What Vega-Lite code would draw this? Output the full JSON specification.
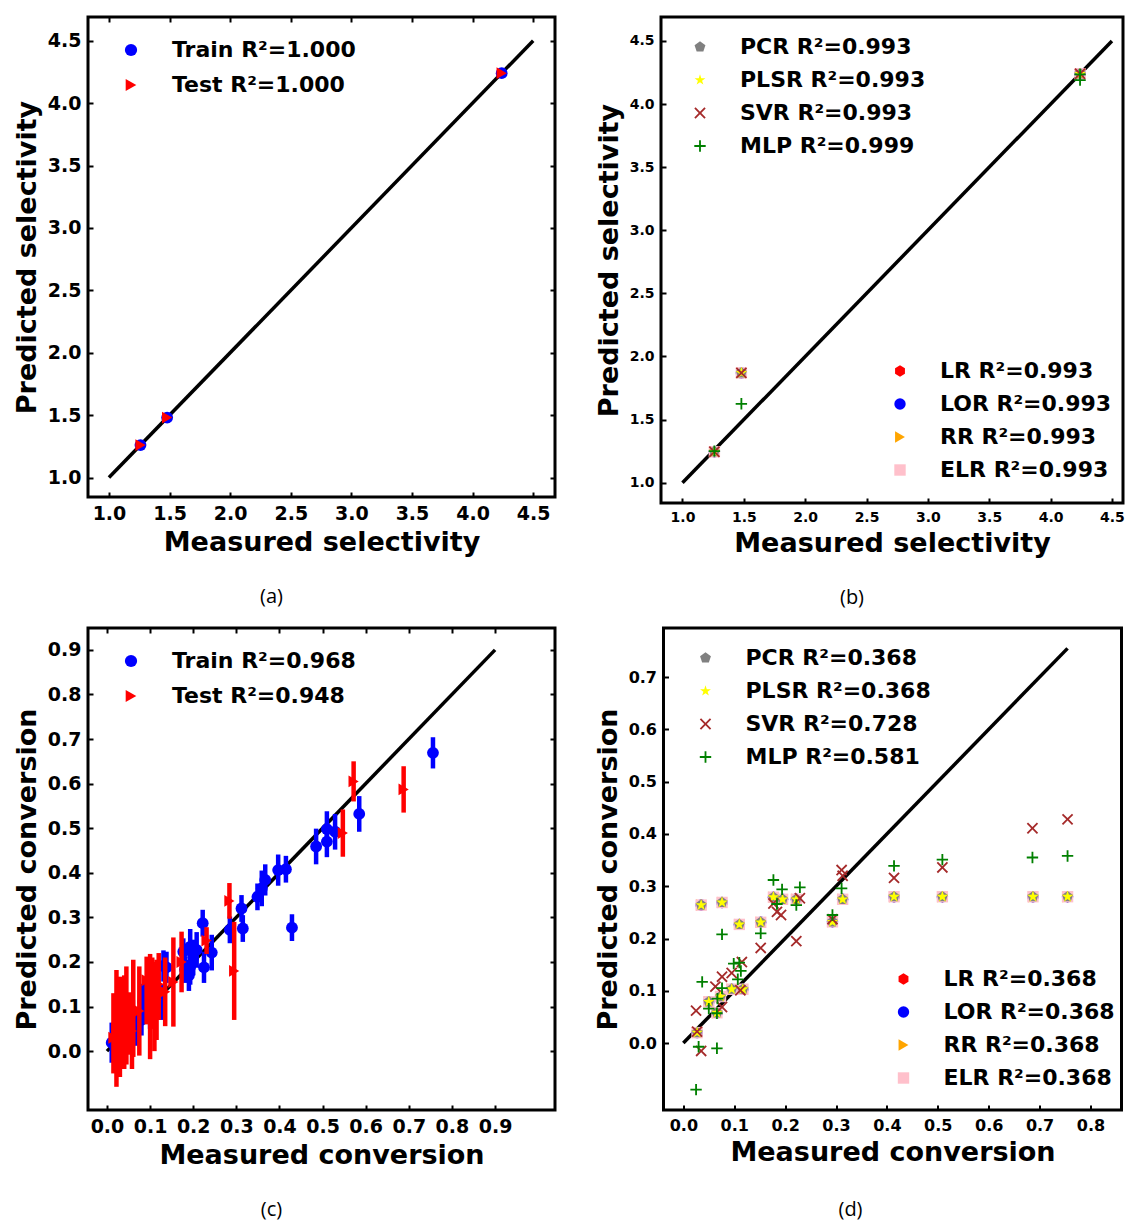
{
"$schema": "https://vega.github.io/schema/vega-lite/v6.json",
"padding": {"left": 11, "top": 14, "right": 0, "bottom": 0},
"datasets": {
"line_a": [{"x": 1.0, "y": 1.0}, {"x": 4.5, "y": 4.5}],
"a_train": [{"x": 1.26, "y": 1.26}, {"x": 1.48, "y": 1.48}, {"x": 4.24, "y": 4.24}],
"a_test": [{"x": 1.26, "y": 1.26}, {"x": 1.48, "y": 1.48}, {"x": 4.24, "y": 4.24}],
"line_b": [{"x": 1.0, "y": 1.0}, {"x": 4.5, "y": 4.5}],
"b_lin": [{"x": 1.26, "y": 1.245}, {"x": 1.48, "y": 1.87}, {"x": 4.24, "y": 4.24}],
"b_mlp": [{"x": 1.26, "y": 1.25}, {"x": 1.48, "y": 1.625}, {"x": 4.24, "y": 4.235}, {"x": 4.24, "y": 4.19}],
"line_c": [{"x": 0.0, "y": 0.0}, {"x": 0.9, "y": 0.9}],
"c_train": [
{"x":0.756,"y":0.669,"lo":0.634,"hi":0.704},{"x":0.585,"y":0.532,"lo":0.492,"hi":0.572},{"x":0.529,"y":0.492,"lo":0.452,"hi":0.532},
{"x":0.510,"y":0.498,"lo":0.458,"hi":0.538},{"x":0.510,"y":0.470,"lo":0.435,"hi":0.505},{"x":0.485,"y":0.459,"lo":0.419,"hi":0.499},
{"x":0.429,"y":0.277,"lo":0.247,"hi":0.307},{"x":0.415,"y":0.408,"lo":0.378,"hi":0.438},{"x":0.397,"y":0.406,"lo":0.371,"hi":0.441},
{"x":0.367,"y":0.384,"lo":0.349,"hi":0.419},{"x":0.359,"y":0.365,"lo":0.325,"hi":0.405},{"x":0.349,"y":0.346,"lo":0.316,"hi":0.376},
{"x":0.315,"y":0.275,"lo":0.245,"hi":0.305},{"x":0.312,"y":0.320,"lo":0.290,"hi":0.350},{"x":0.285,"y":0.272,"lo":0.242,"hi":0.302},
{"x":0.243,"y":0.221,"lo":0.181,"hi":0.261},{"x":0.225,"y":0.188,"lo":0.153,"hi":0.223},{"x":0.222,"y":0.287,"lo":0.257,"hi":0.317},
{"x":0.208,"y":0.227,"lo":0.187,"hi":0.267},{"x":0.193,"y":0.234,"lo":0.194,"hi":0.274},{"x":0.193,"y":0.189,"lo":0.149,"hi":0.229},
{"x":0.181,"y":0.183,"lo":0.153,"hi":0.213},{"x":0.177,"y":0.223,"lo":0.193,"hi":0.253},{"x":0.131,"y":0.191,"lo":0.156,"hi":0.226},
{"x":0.115,"y":0.122,"lo":0.082,"hi":0.162},{"x":0.084,"y":0.111,"lo":0.071,"hi":0.151},{"x":0.077,"y":0.088,"lo":0.053,"hi":0.123},
{"x":0.069,"y":0.047,"lo":0.012,"hi":0.082},{"x":0.053,"y":0.062,"lo":0.027,"hi":0.097},{"x":0.011,"y":0.019,"lo":-0.026,"hi":0.064},
{"x":0.092,"y":0.115,"lo":0.075,"hi":0.155},{"x":0.100,"y":0.090,"lo":0.050,"hi":0.130},{"x":0.060,"y":0.075,"lo":0.035,"hi":0.115},
{"x":0.035,"y":0.040,"lo":0.005,"hi":0.075},{"x":0.190,"y":0.170,"lo":0.135,"hi":0.205},{"x":0.200,"y":0.210,"lo":0.170,"hi":0.250},
{"x":0.125,"y":0.110,"lo":0.070,"hi":0.150},{"x":0.080,"y":0.070,"lo":0.035,"hi":0.105},{"x":0.045,"y":0.050,"lo":0.015,"hi":0.085},
{"x":0.138,"y":0.188,"lo":0.153,"hi":0.223}],
"c_test": [
{"x":0.688,"y":0.587,"lo":0.535,"hi":0.639},{"x":0.572,"y":0.605,"lo":0.560,"hi":0.650},{"x":0.547,"y":0.489,"lo":0.436,"hi":0.542},
{"x":0.295,"y":0.180,"lo":0.070,"hi":0.290},{"x":0.284,"y":0.337,"lo":0.297,"hi":0.377},{"x":0.231,"y":0.248,"lo":0.218,"hi":0.278},
{"x":0.173,"y":0.200,"lo":0.132,"hi":0.268},{"x":0.154,"y":0.155,"lo":0.055,"hi":0.255},{"x":0.135,"y":0.133,"lo":0.056,"hi":0.210},
{"x":0.100,"y":0.100,"lo":-0.018,"hi":0.218},{"x":0.115,"y":0.115,"lo":0.025,"hi":0.205},{"x":0.092,"y":0.159,"lo":0.060,"hi":0.212},
{"x":0.061,"y":0.096,"lo":-0.013,"hi":0.205},{"x":0.053,"y":0.062,"lo":-0.008,"hi":0.132},{"x":0.030,"y":0.032,"lo":-0.058,"hi":0.167},
{"x":0.022,"y":0.051,"lo":-0.080,"hi":0.182},{"x":0.040,"y":0.060,"lo":-0.040,"hi":0.170},{"x":0.015,"y":0.030,"lo":-0.050,"hi":0.130},
{"x":0.045,"y":0.080,"lo":-0.030,"hi":0.190},{"x":0.075,"y":0.090,"lo":-0.010,"hi":0.190},{"x":0.105,"y":0.140,"lo":0.050,"hi":0.210},
{"x":0.120,"y":0.150,"lo":0.070,"hi":0.220},{"x":0.058,"y":0.045,"lo":-0.040,"hi":0.130},{"x":0.110,"y":0.100,"lo":0.000,"hi":0.200}],
"line_d": [{"x": 0.0, "y": 0.0}, {"x": 0.755, "y": 0.755}],
"d_lin": [
{"x":0.027,"y":0.020},{"x":0.035,"y":0.264},{"x":0.050,"y":0.079},{"x":0.066,"y":0.058},{"x":0.073,"y":0.089},
{"x":0.076,"y":0.269},{"x":0.095,"y":0.103},{"x":0.110,"y":0.227},{"x":0.117,"y":0.103},{"x":0.152,"y":0.231},
{"x":0.177,"y":0.279},{"x":0.195,"y":0.275},{"x":0.222,"y":0.275},{"x":0.293,"y":0.232},{"x":0.313,"y":0.275},
{"x":0.414,"y":0.280},{"x":0.509,"y":0.280},{"x":0.687,"y":0.280},{"x":0.755,"y":0.280}],
"d_svr": [
{"x":0.686,"y":0.411},{"x":0.755,"y":0.428},{"x":0.509,"y":0.336},{"x":0.414,"y":0.316},{"x":0.311,"y":0.331},
{"x":0.313,"y":0.320},{"x":0.293,"y":0.237},{"x":0.222,"y":0.195},{"x":0.229,"y":0.277},{"x":0.192,"y":0.245},
{"x":0.184,"y":0.251},{"x":0.177,"y":0.267},{"x":0.152,"y":0.182},{"x":0.115,"y":0.155},{"x":0.095,"y":0.134},
{"x":0.076,"y":0.127},{"x":0.063,"y":0.108},{"x":0.112,"y":0.101},{"x":0.076,"y":0.069},{"x":0.025,"y":0.062},
{"x":0.035,"y":-0.015},{"x":0.027,"y":0.022}],
"d_mlp": [
{"x":0.686,"y":0.355},{"x":0.755,"y":0.358},{"x":0.509,"y":0.351},{"x":0.414,"y":0.339},{"x":0.311,"y":0.296},
{"x":0.293,"y":0.245},{"x":0.222,"y":0.264},{"x":0.229,"y":0.298},{"x":0.194,"y":0.294},{"x":0.177,"y":0.312},
{"x":0.184,"y":0.266},{"x":0.152,"y":0.210},{"x":0.110,"y":0.154},{"x":0.099,"y":0.152},{"x":0.113,"y":0.138},
{"x":0.107,"y":0.122},{"x":0.076,"y":0.208},{"x":0.076,"y":0.105},{"x":0.067,"y":0.085},{"x":0.050,"y":0.066},
{"x":0.066,"y":0.057},{"x":0.037,"y":0.117},{"x":0.030,"y":-0.007},{"x":0.066,"y":-0.010},{"x":0.025,"y":-0.089}]
},
"spacing": 15,
"resolve": {"scale": {"color": "independent", "shape": "independent"}},
"vconcat": [
{
"spacing": 35,
"resolve": {"scale": {"color": "independent", "shape": "independent"}},
"hconcat": [
{
"width": 467, "height": 480,
"title": {"text": "(a)", "orient": "bottom", "frame": "group", "dx": -50},
"resolve": {"axis": {"x": "independent", "y": "independent"}},
"layer": [
{"data": {"name": "line_a"}, "mark": {"type": "line", "color": "black", "strokeWidth": 3.5},
 "encoding": {
  "x": {"field": "x", "type": "quantitative", "scale": {"domain": [0.827, 4.68], "nice": false, "zero": false}, "axis": {"values": [1,1.5,2,2.5,3,3.5,4,4.5], "labelFontSize": 19, "title": "Measured selectivity"}},
  "y": {"field": "y", "type": "quantitative", "scale": {"domain": [0.844, 4.69], "nice": false, "zero": false}, "axis": {"values": [1,1.5,2,2.5,3,3.5,4,4.5], "labelFontSize": 19, "title": "Predicted selectivity"}}}},
{"data": {"name": "a_train"}, "mark": {"type": "point", "filled": true, "opacity": 1, "size": 140, "strokeWidth": 0},
 "encoding": {
  "x": {"field": "x", "type": "quantitative", "scale": {"domain": [0.827, 4.68], "nice": false, "zero": false}, "axis": {"orient": "top", "labels": false, "title": null, "values": [1,1.5,2,2.5,3,3.5,4,4.5]}},
  "y": {"field": "y", "type": "quantitative", "scale": {"domain": [0.844, 4.69], "nice": false, "zero": false}, "axis": {"orient": "right", "labels": false, "title": null, "values": [1,1.5,2,2.5,3,3.5,4,4.5]}},
  "color": {"datum": "Train R²=1.000", "scale": {"domain": ["Train R²=1.000", "Test R²=1.000"], "range": ["#0000ff", "#ff0000"]}, "legend": {"orient": "top-left", "title": null, "offset": 22, "padding": 0, "symbolOffset": 10, "labelOffset": 30, "rowPadding": 13, "labelFontSize": 22, "symbolSize": 150}},
  "shape": {"datum": "Train R²=1.000", "scale": {"domain": ["Train R²=1.000", "Test R²=1.000"], "range": ["circle", "triangle-right"]}, "legend": {"orient": "top-left", "title": null, "offset": 22, "padding": 0, "symbolOffset": 10, "labelOffset": 30, "rowPadding": 13, "labelFontSize": 22, "symbolSize": 150}}}},
{"data": {"name": "a_test"}, "mark": {"type": "point", "filled": true, "opacity": 1, "size": 140, "strokeWidth": 0},
 "encoding": {
  "x": {"field": "x", "type": "quantitative", "scale": {"domain": [0.827, 4.68], "nice": false, "zero": false}, "axis": null},
  "y": {"field": "y", "type": "quantitative", "scale": {"domain": [0.844, 4.69], "nice": false, "zero": false}, "axis": null},
  "color": {"datum": "Test R²=1.000", "scale": {"domain": ["Train R²=1.000", "Test R²=1.000"], "range": ["#0000ff", "#ff0000"]}},
  "shape": {"datum": "Test R²=1.000", "scale": {"domain": ["Train R²=1.000", "Test R²=1.000"], "range": ["circle", "triangle-right"]}}}}
]
},
{
"width": 462, "height": 486,
"title": {"text": "(b)", "orient": "bottom", "frame": "group", "dx": -40},
"resolve": {"scale": {"color": "independent", "shape": "independent"}, "axis": {"x": "independent", "y": "independent"}},
"layer": [
{"data": {"name": "line_b"}, "mark": {"type": "line", "color": "black", "strokeWidth": 3.5},
 "encoding": {
  "x": {"field": "x", "type": "quantitative", "scale": {"domain": [0.825, 4.59], "nice": false, "zero": false}, "axis": {"values": [1,1.5,2,2.5,3,3.5,4,4.5], "labelFontSize": 14, "title": "Measured selectivity"}},
  "y": {"field": "y", "type": "quantitative", "scale": {"domain": [0.839, 4.69], "nice": false, "zero": false}, "axis": {"values": [1,1.5,2,2.5,3,3.5,4,4.5], "labelFontSize": 14, "title": "Predicted selectivity"}}}},
{"layer": [
 {"data": {"name": "b_lin"}, "mark": {"type": "point", "filled": true, "opacity": 1, "size": 130, "strokeWidth": 0},
  "encoding": {
   "x": {"field": "x", "type": "quantitative", "scale": {"domain": [0.825, 4.59], "nice": false, "zero": false}, "axis": {"orient": "top", "labels": false, "title": null, "values": [1,1.5,2,2.5,3,3.5,4,4.5]}},
   "y": {"field": "y", "type": "quantitative", "scale": {"domain": [0.839, 4.69], "nice": false, "zero": false}, "axis": {"orient": "right", "labels": false, "title": null, "values": [1,1.5,2,2.5,3,3.5,4,4.5]}},
   "color": {"datum": "LR R²=0.993", "scale": {"domain": ["LR R²=0.993", "LOR R²=0.993", "RR R²=0.993", "ELR R²=0.993"], "range": ["#ff0000", "#0000ff", "#ffa500", "#ffc0cb"]}, "legend": {"orient": "none", "legendX": 228, "legendY": 343, "title": null, "padding": 0, "symbolOffset": 0, "labelOffset": 29, "rowPadding": 11, "labelFontSize": 22, "symbolSize": 130}},
   "shape": {"datum": "LR R²=0.993", "scale": {"domain": ["LR R²=0.993", "LOR R²=0.993", "RR R²=0.993", "ELR R²=0.993"], "range": ["M0,-1L0.866,-0.5L0.866,0.5L0,1L-0.866,0.5L-0.866,-0.5Z", "circle", "triangle-right", "square"]}, "legend": {"orient": "none", "legendX": 228, "legendY": 343, "title": null, "padding": 0, "symbolOffset": 0, "labelOffset": 29, "rowPadding": 11, "labelFontSize": 22, "symbolSize": 130}}}},
 {"data": {"name": "b_lin"}, "mark": {"type": "point", "filled": true, "opacity": 1, "size": 130, "strokeWidth": 0},
  "encoding": {
   "x": {"field": "x", "type": "quantitative", "scale": {"domain": [0.825, 4.59], "nice": false, "zero": false}, "axis": null},
   "y": {"field": "y", "type": "quantitative", "scale": {"domain": [0.839, 4.69], "nice": false, "zero": false}, "axis": null},
   "color": {"datum": "LOR R²=0.993", "scale": {"domain": ["LR R²=0.993", "LOR R²=0.993", "RR R²=0.993", "ELR R²=0.993"], "range": ["#ff0000", "#0000ff", "#ffa500", "#ffc0cb"]}},
   "shape": {"datum": "LOR R²=0.993", "scale": {"domain": ["LR R²=0.993", "LOR R²=0.993", "RR R²=0.993", "ELR R²=0.993"], "range": ["M0,-1L0.866,-0.5L0.866,0.5L0,1L-0.866,0.5L-0.866,-0.5Z", "circle", "triangle-right", "square"]}}}},
 {"data": {"name": "b_lin"}, "mark": {"type": "point", "filled": true, "opacity": 1, "size": 130, "strokeWidth": 0},
  "encoding": {
   "x": {"field": "x", "type": "quantitative", "scale": {"domain": [0.825, 4.59], "nice": false, "zero": false}, "axis": null},
   "y": {"field": "y", "type": "quantitative", "scale": {"domain": [0.839, 4.69], "nice": false, "zero": false}, "axis": null},
   "color": {"datum": "RR R²=0.993", "scale": {"domain": ["LR R²=0.993", "LOR R²=0.993", "RR R²=0.993", "ELR R²=0.993"], "range": ["#ff0000", "#0000ff", "#ffa500", "#ffc0cb"]}},
   "shape": {"datum": "RR R²=0.993", "scale": {"domain": ["LR R²=0.993", "LOR R²=0.993", "RR R²=0.993", "ELR R²=0.993"], "range": ["M0,-1L0.866,-0.5L0.866,0.5L0,1L-0.866,0.5L-0.866,-0.5Z", "circle", "triangle-right", "square"]}}}},
 {"data": {"name": "b_lin"}, "mark": {"type": "point", "filled": true, "opacity": 1, "size": 130, "strokeWidth": 0},
  "encoding": {
   "x": {"field": "x", "type": "quantitative", "scale": {"domain": [0.825, 4.59], "nice": false, "zero": false}, "axis": null},
   "y": {"field": "y", "type": "quantitative", "scale": {"domain": [0.839, 4.69], "nice": false, "zero": false}, "axis": null},
   "color": {"datum": "ELR R²=0.993", "scale": {"domain": ["LR R²=0.993", "LOR R²=0.993", "RR R²=0.993", "ELR R²=0.993"], "range": ["#ff0000", "#0000ff", "#ffa500", "#ffc0cb"]}},
   "shape": {"datum": "ELR R²=0.993", "scale": {"domain": ["LR R²=0.993", "LOR R²=0.993", "RR R²=0.993", "ELR R²=0.993"], "range": ["M0,-1L0.866,-0.5L0.866,0.5L0,1L-0.866,0.5L-0.866,-0.5Z", "circle", "triangle-right", "square"]}}}}
]},
{"layer": [
 {"data": {"name": "b_lin"}, "mark": {"type": "point", "filled": true, "opacity": 1, "size": 130, "strokeWidth": 0},
  "encoding": {
   "x": {"field": "x", "type": "quantitative", "scale": {"domain": [0.825, 4.59], "nice": false, "zero": false}, "axis": null},
   "y": {"field": "y", "type": "quantitative", "scale": {"domain": [0.839, 4.69], "nice": false, "zero": false}, "axis": null},
   "color": {"datum": "PCR R²=0.993", "scale": {"domain": ["PCR R²=0.993", "PLSR R²=0.993", "SVR R²=0.993", "MLP R²=0.999"], "range": ["#808080", "#ffff00", "#a52a2a", "#008000"]}, "legend": {"orient": "top-left", "title": null, "offset": 19, "padding": 0, "symbolOffset": 9, "labelOffset": 29, "rowPadding": 11, "labelFontSize": 22, "symbolSize": 130}},
   "shape": {"datum": "PCR R²=0.993", "scale": {"domain": ["PCR R²=0.993", "PLSR R²=0.993", "SVR R²=0.993", "MLP R²=0.999"], "range": ["M0,-1L0.951,-0.309L0.588,0.809L-0.588,0.809L-0.951,-0.309Z", "M0,-1L0.2245,-0.309L0.951,-0.309L0.363,0.118L0.588,0.809L0,0.382L-0.588,0.809L-0.363,0.118L-0.951,-0.309L-0.2245,-0.309Z", "M-1,-0.774L-0.774,-1L0,-0.226L0.774,-1L1,-0.774L0.226,0L1,0.774L0.774,1L0,0.226L-0.774,1L-1,0.774L-0.226,0Z", "M-0.16,-1H0.16V-0.16H1V0.16H0.16V1H-0.16V0.16H-1V-0.16H-0.16Z"]}, "legend": {"orient": "top-left", "title": null, "offset": 19, "padding": 0, "symbolOffset": 9, "labelOffset": 29, "rowPadding": 11, "labelFontSize": 22, "symbolSize": 130}}}},
 {"data": {"name": "b_lin"}, "mark": {"type": "point", "filled": true, "opacity": 1, "size": 150, "strokeWidth": 0},
  "encoding": {
   "x": {"field": "x", "type": "quantitative", "scale": {"domain": [0.825, 4.59], "nice": false, "zero": false}, "axis": null},
   "y": {"field": "y", "type": "quantitative", "scale": {"domain": [0.839, 4.69], "nice": false, "zero": false}, "axis": null},
   "color": {"datum": "PLSR R²=0.993", "scale": {"domain": ["PCR R²=0.993", "PLSR R²=0.993", "SVR R²=0.993", "MLP R²=0.999"], "range": ["#808080", "#ffff00", "#a52a2a", "#008000"]}},
   "shape": {"datum": "PLSR R²=0.993", "scale": {"domain": ["PCR R²=0.993", "PLSR R²=0.993", "SVR R²=0.993", "MLP R²=0.999"], "range": ["M0,-1L0.951,-0.309L0.588,0.809L-0.588,0.809L-0.951,-0.309Z", "M0,-1L0.2245,-0.309L0.951,-0.309L0.363,0.118L0.588,0.809L0,0.382L-0.588,0.809L-0.363,0.118L-0.951,-0.309L-0.2245,-0.309Z", "M-1,-0.774L-0.774,-1L0,-0.226L0.774,-1L1,-0.774L0.226,0L1,0.774L0.774,1L0,0.226L-0.774,1L-1,0.774L-0.226,0Z", "M-0.16,-1H0.16V-0.16H1V0.16H0.16V1H-0.16V0.16H-1V-0.16H-0.16Z"]}}}},
 {"data": {"name": "b_lin"}, "mark": {"type": "point", "filled": true, "opacity": 1, "size": 130, "strokeWidth": 0},
  "encoding": {
   "x": {"field": "x", "type": "quantitative", "scale": {"domain": [0.825, 4.59], "nice": false, "zero": false}, "axis": null},
   "y": {"field": "y", "type": "quantitative", "scale": {"domain": [0.839, 4.69], "nice": false, "zero": false}, "axis": null},
   "color": {"datum": "SVR R²=0.993", "scale": {"domain": ["PCR R²=0.993", "PLSR R²=0.993", "SVR R²=0.993", "MLP R²=0.999"], "range": ["#808080", "#ffff00", "#a52a2a", "#008000"]}},
   "shape": {"datum": "SVR R²=0.993", "scale": {"domain": ["PCR R²=0.993", "PLSR R²=0.993", "SVR R²=0.993", "MLP R²=0.999"], "range": ["M0,-1L0.951,-0.309L0.588,0.809L-0.588,0.809L-0.951,-0.309Z", "M0,-1L0.2245,-0.309L0.951,-0.309L0.363,0.118L0.588,0.809L0,0.382L-0.588,0.809L-0.363,0.118L-0.951,-0.309L-0.2245,-0.309Z", "M-1,-0.774L-0.774,-1L0,-0.226L0.774,-1L1,-0.774L0.226,0L1,0.774L0.774,1L0,0.226L-0.774,1L-1,0.774L-0.226,0Z", "M-0.16,-1H0.16V-0.16H1V0.16H0.16V1H-0.16V0.16H-1V-0.16H-0.16Z"]}}}},
 {"data": {"name": "b_mlp"}, "mark": {"type": "point", "filled": true, "opacity": 1, "size": 130, "strokeWidth": 0},
  "encoding": {
   "x": {"field": "x", "type": "quantitative", "scale": {"domain": [0.825, 4.59], "nice": false, "zero": false}, "axis": null},
   "y": {"field": "y", "type": "quantitative", "scale": {"domain": [0.839, 4.69], "nice": false, "zero": false}, "axis": null},
   "color": {"datum": "MLP R²=0.999", "scale": {"domain": ["PCR R²=0.993", "PLSR R²=0.993", "SVR R²=0.993", "MLP R²=0.999"], "range": ["#808080", "#ffff00", "#a52a2a", "#008000"]}},
   "shape": {"datum": "MLP R²=0.999", "scale": {"domain": ["PCR R²=0.993", "PLSR R²=0.993", "SVR R²=0.993", "MLP R²=0.999"], "range": ["M0,-1L0.951,-0.309L0.588,0.809L-0.588,0.809L-0.951,-0.309Z", "M0,-1L0.2245,-0.309L0.951,-0.309L0.363,0.118L0.588,0.809L0,0.382L-0.588,0.809L-0.363,0.118L-0.951,-0.309L-0.2245,-0.309Z", "M-1,-0.774L-0.774,-1L0,-0.226L0.774,-1L1,-0.774L0.226,0L1,0.774L0.774,1L0,0.226L-0.774,1L-1,0.774L-0.226,0Z", "M-0.16,-1H0.16V-0.16H1V0.16H0.16V1H-0.16V0.16H-1V-0.16H-0.16Z"]}}}}
]}
]
}
]
},
{
"spacing": 34.5,
"resolve": {"scale": {"color": "independent", "shape": "independent"}},
"hconcat": [
{
"width": 467, "height": 482,
"title": {"text": "(c)", "orient": "bottom", "frame": "group", "dx": -50},
"resolve": {"axis": {"x": "independent", "y": "independent"}},
"layer": [
{"data": {"name": "line_c"}, "mark": {"type": "line", "color": "black", "strokeWidth": 3.5},
 "encoding": {
  "x": {"field": "x", "type": "quantitative", "scale": {"domain": [-0.044, 1.039], "nice": false, "zero": false}, "axis": {"values": [0,0.1,0.2,0.3,0.4,0.5,0.6,0.7,0.8,0.9], "labelFontSize": 19, "title": "Measured conversion"}},
  "y": {"field": "y", "type": "quantitative", "scale": {"domain": [-0.132, 0.949], "nice": false, "zero": false}, "axis": {"values": [0,0.1,0.2,0.3,0.4,0.5,0.6,0.7,0.8,0.9], "labelFontSize": 19, "title": "Predicted conversion"}}}},
{"data": {"name": "c_train"}, "mark": {"type": "rule", "color": "#0000ff", "strokeWidth": 4.5},
 "encoding": {
  "x": {"field": "x", "type": "quantitative", "scale": {"domain": [-0.044, 1.039], "nice": false, "zero": false}, "axis": null},
  "y": {"field": "lo", "type": "quantitative", "scale": {"domain": [-0.132, 0.949], "nice": false, "zero": false}, "axis": null},
  "y2": {"field": "hi"}}},
{"data": {"name": "c_train"}, "mark": {"type": "point", "filled": true, "opacity": 1, "size": 140, "strokeWidth": 0},
 "encoding": {
  "x": {"field": "x", "type": "quantitative", "scale": {"domain": [-0.044, 1.039], "nice": false, "zero": false}, "axis": {"orient": "top", "labels": false, "title": null, "values": [0,0.1,0.2,0.3,0.4,0.5,0.6,0.7,0.8,0.9]}},
  "y": {"field": "y", "type": "quantitative", "scale": {"domain": [-0.132, 0.949], "nice": false, "zero": false}, "axis": {"orient": "right", "labels": false, "title": null, "values": [0,0.1,0.2,0.3,0.4,0.5,0.6,0.7,0.8,0.9]}},
  "color": {"datum": "Train R²=0.968", "scale": {"domain": ["Train R²=0.968", "Test R²=0.948"], "range": ["#0000ff", "#ff0000"]}, "legend": {"orient": "top-left", "title": null, "offset": 22, "padding": 0, "symbolOffset": 10, "labelOffset": 30, "rowPadding": 13, "labelFontSize": 22, "symbolSize": 150}},
  "shape": {"datum": "Train R²=0.968", "scale": {"domain": ["Train R²=0.968", "Test R²=0.948"], "range": ["circle", "triangle-right"]}, "legend": {"orient": "top-left", "title": null, "offset": 22, "padding": 0, "symbolOffset": 10, "labelOffset": 30, "rowPadding": 13, "labelFontSize": 22, "symbolSize": 150}}}},
{"data": {"name": "c_test"}, "mark": {"type": "rule", "color": "#ff0000", "strokeWidth": 4.5},
 "encoding": {
  "x": {"field": "x", "type": "quantitative", "scale": {"domain": [-0.044, 1.039], "nice": false, "zero": false}, "axis": null},
  "y": {"field": "lo", "type": "quantitative", "scale": {"domain": [-0.132, 0.949], "nice": false, "zero": false}, "axis": null},
  "y2": {"field": "hi"}}},
{"data": {"name": "c_test"}, "mark": {"type": "point", "filled": true, "opacity": 1, "size": 140, "strokeWidth": 0},
 "encoding": {
  "x": {"field": "x", "type": "quantitative", "scale": {"domain": [-0.044, 1.039], "nice": false, "zero": false}, "axis": null},
  "y": {"field": "y", "type": "quantitative", "scale": {"domain": [-0.132, 0.949], "nice": false, "zero": false}, "axis": null},
  "color": {"datum": "Test R²=0.948", "scale": {"domain": ["Train R²=0.968", "Test R²=0.948"], "range": ["#0000ff", "#ff0000"]}},
  "shape": {"datum": "Test R²=0.948", "scale": {"domain": ["Train R²=0.968", "Test R²=0.948"], "range": ["circle", "triangle-right"]}}}}
]
},
{
"width": 458, "height": 482,
"title": {"text": "(d)", "orient": "bottom", "frame": "group", "dx": -42, "offset": 35},
"resolve": {"scale": {"color": "independent", "shape": "independent"}, "axis": {"x": "independent", "y": "independent"}},
"layer": [
{"data": {"name": "line_d"}, "mark": {"type": "line", "color": "black", "strokeWidth": 3.5},
 "encoding": {
  "x": {"field": "x", "type": "quantitative", "scale": {"domain": [-0.039, 0.861], "nice": false, "zero": false}, "axis": {"values": [0,0.1,0.2,0.3,0.4,0.5,0.6,0.7,0.8], "labelFontSize": 16, "title": "Measured conversion"}},
  "y": {"field": "y", "type": "quantitative", "scale": {"domain": [-0.128, 0.794], "nice": false, "zero": false}, "axis": {"values": [0,0.1,0.2,0.3,0.4,0.5,0.6,0.7], "labelFontSize": 16, "title": "Predicted conversion"}}}},
{"layer": [
 {"data": {"name": "d_lin"}, "mark": {"type": "point", "filled": true, "opacity": 1, "size": 130, "strokeWidth": 0},
  "encoding": {
   "x": {"field": "x", "type": "quantitative", "scale": {"domain": [-0.039, 0.861], "nice": false, "zero": false}, "axis": {"orient": "top", "labels": false, "title": null, "values": [0,0.1,0.2,0.3,0.4,0.5,0.6,0.7,0.8]}},
   "y": {"field": "y", "type": "quantitative", "scale": {"domain": [-0.128, 0.794], "nice": false, "zero": false}, "axis": {"orient": "right", "labels": false, "title": null, "values": [0,0.1,0.2,0.3,0.4,0.5,0.6,0.7]}},
   "color": {"datum": "LR R²=0.368", "scale": {"domain": ["LR R²=0.368", "LOR R²=0.368", "RR R²=0.368", "ELR R²=0.368"], "range": ["#ff0000", "#0000ff", "#ffa500", "#ffc0cb"]}, "legend": {"orient": "none", "legendX": 229, "legendY": 340, "title": null, "padding": 0, "symbolOffset": 0, "labelOffset": 29, "rowPadding": 11, "labelFontSize": 22, "symbolSize": 130}},
   "shape": {"datum": "LR R²=0.368", "scale": {"domain": ["LR R²=0.368", "LOR R²=0.368", "RR R²=0.368", "ELR R²=0.368"], "range": ["M0,-1L0.866,-0.5L0.866,0.5L0,1L-0.866,0.5L-0.866,-0.5Z", "circle", "triangle-right", "square"]}, "legend": {"orient": "none", "legendX": 229, "legendY": 340, "title": null, "padding": 0, "symbolOffset": 0, "labelOffset": 29, "rowPadding": 11, "labelFontSize": 22, "symbolSize": 130}}}},
 {"data": {"name": "d_lin"}, "mark": {"type": "point", "filled": true, "opacity": 1, "size": 130, "strokeWidth": 0},
  "encoding": {
   "x": {"field": "x", "type": "quantitative", "scale": {"domain": [-0.039, 0.861], "nice": false, "zero": false}, "axis": null},
   "y": {"field": "y", "type": "quantitative", "scale": {"domain": [-0.128, 0.794], "nice": false, "zero": false}, "axis": null},
   "color": {"datum": "LOR R²=0.368", "scale": {"domain": ["LR R²=0.368", "LOR R²=0.368", "RR R²=0.368", "ELR R²=0.368"], "range": ["#ff0000", "#0000ff", "#ffa500", "#ffc0cb"]}},
   "shape": {"datum": "LOR R²=0.368", "scale": {"domain": ["LR R²=0.368", "LOR R²=0.368", "RR R²=0.368", "ELR R²=0.368"], "range": ["M0,-1L0.866,-0.5L0.866,0.5L0,1L-0.866,0.5L-0.866,-0.5Z", "circle", "triangle-right", "square"]}}}},
 {"data": {"name": "d_lin"}, "mark": {"type": "point", "filled": true, "opacity": 1, "size": 130, "strokeWidth": 0},
  "encoding": {
   "x": {"field": "x", "type": "quantitative", "scale": {"domain": [-0.039, 0.861], "nice": false, "zero": false}, "axis": null},
   "y": {"field": "y", "type": "quantitative", "scale": {"domain": [-0.128, 0.794], "nice": false, "zero": false}, "axis": null},
   "color": {"datum": "RR R²=0.368", "scale": {"domain": ["LR R²=0.368", "LOR R²=0.368", "RR R²=0.368", "ELR R²=0.368"], "range": ["#ff0000", "#0000ff", "#ffa500", "#ffc0cb"]}},
   "shape": {"datum": "RR R²=0.368", "scale": {"domain": ["LR R²=0.368", "LOR R²=0.368", "RR R²=0.368", "ELR R²=0.368"], "range": ["M0,-1L0.866,-0.5L0.866,0.5L0,1L-0.866,0.5L-0.866,-0.5Z", "circle", "triangle-right", "square"]}}}},
 {"data": {"name": "d_lin"}, "mark": {"type": "point", "filled": true, "opacity": 1, "size": 130, "strokeWidth": 0},
  "encoding": {
   "x": {"field": "x", "type": "quantitative", "scale": {"domain": [-0.039, 0.861], "nice": false, "zero": false}, "axis": null},
   "y": {"field": "y", "type": "quantitative", "scale": {"domain": [-0.128, 0.794], "nice": false, "zero": false}, "axis": null},
   "color": {"datum": "ELR R²=0.368", "scale": {"domain": ["LR R²=0.368", "LOR R²=0.368", "RR R²=0.368", "ELR R²=0.368"], "range": ["#ff0000", "#0000ff", "#ffa500", "#ffc0cb"]}},
   "shape": {"datum": "ELR R²=0.368", "scale": {"domain": ["LR R²=0.368", "LOR R²=0.368", "RR R²=0.368", "ELR R²=0.368"], "range": ["M0,-1L0.866,-0.5L0.866,0.5L0,1L-0.866,0.5L-0.866,-0.5Z", "circle", "triangle-right", "square"]}}}}
]},
{"layer": [
 {"data": {"name": "d_lin"}, "mark": {"type": "point", "filled": true, "opacity": 1, "size": 130, "strokeWidth": 0},
  "encoding": {
   "x": {"field": "x", "type": "quantitative", "scale": {"domain": [-0.039, 0.861], "nice": false, "zero": false}, "axis": null},
   "y": {"field": "y", "type": "quantitative", "scale": {"domain": [-0.128, 0.794], "nice": false, "zero": false}, "axis": null},
   "color": {"datum": "PCR R²=0.368", "scale": {"domain": ["PCR R²=0.368", "PLSR R²=0.368", "SVR R²=0.728", "MLP R²=0.581"], "range": ["#808080", "#ffff00", "#a52a2a", "#008000"]}, "legend": {"orient": "top-left", "title": null, "offset": 19, "padding": 0, "symbolOffset": 12, "labelOffset": 29, "rowPadding": 11, "labelFontSize": 22, "symbolSize": 130}},
   "shape": {"datum": "PCR R²=0.368", "scale": {"domain": ["PCR R²=0.368", "PLSR R²=0.368", "SVR R²=0.728", "MLP R²=0.581"], "range": ["M0,-1L0.951,-0.309L0.588,0.809L-0.588,0.809L-0.951,-0.309Z", "M0,-1L0.2245,-0.309L0.951,-0.309L0.363,0.118L0.588,0.809L0,0.382L-0.588,0.809L-0.363,0.118L-0.951,-0.309L-0.2245,-0.309Z", "M-1,-0.774L-0.774,-1L0,-0.226L0.774,-1L1,-0.774L0.226,0L1,0.774L0.774,1L0,0.226L-0.774,1L-1,0.774L-0.226,0Z", "M-0.16,-1H0.16V-0.16H1V0.16H0.16V1H-0.16V0.16H-1V-0.16H-0.16Z"]}, "legend": {"orient": "top-left", "title": null, "offset": 19, "padding": 0, "symbolOffset": 12, "labelOffset": 29, "rowPadding": 11, "labelFontSize": 22, "symbolSize": 130}}}},
 {"data": {"name": "d_lin"}, "mark": {"type": "point", "filled": true, "opacity": 1, "size": 150, "strokeWidth": 0},
  "encoding": {
   "x": {"field": "x", "type": "quantitative", "scale": {"domain": [-0.039, 0.861], "nice": false, "zero": false}, "axis": null},
   "y": {"field": "y", "type": "quantitative", "scale": {"domain": [-0.128, 0.794], "nice": false, "zero": false}, "axis": null},
   "color": {"datum": "PLSR R²=0.368", "scale": {"domain": ["PCR R²=0.368", "PLSR R²=0.368", "SVR R²=0.728", "MLP R²=0.581"], "range": ["#808080", "#ffff00", "#a52a2a", "#008000"]}},
   "shape": {"datum": "PLSR R²=0.368", "scale": {"domain": ["PCR R²=0.368", "PLSR R²=0.368", "SVR R²=0.728", "MLP R²=0.581"], "range": ["M0,-1L0.951,-0.309L0.588,0.809L-0.588,0.809L-0.951,-0.309Z", "M0,-1L0.2245,-0.309L0.951,-0.309L0.363,0.118L0.588,0.809L0,0.382L-0.588,0.809L-0.363,0.118L-0.951,-0.309L-0.2245,-0.309Z", "M-1,-0.774L-0.774,-1L0,-0.226L0.774,-1L1,-0.774L0.226,0L1,0.774L0.774,1L0,0.226L-0.774,1L-1,0.774L-0.226,0Z", "M-0.16,-1H0.16V-0.16H1V0.16H0.16V1H-0.16V0.16H-1V-0.16H-0.16Z"]}}}},
 {"data": {"name": "d_svr"}, "mark": {"type": "point", "filled": true, "opacity": 1, "size": 130, "strokeWidth": 0},
  "encoding": {
   "x": {"field": "x", "type": "quantitative", "scale": {"domain": [-0.039, 0.861], "nice": false, "zero": false}, "axis": null},
   "y": {"field": "y", "type": "quantitative", "scale": {"domain": [-0.128, 0.794], "nice": false, "zero": false}, "axis": null},
   "color": {"datum": "SVR R²=0.728", "scale": {"domain": ["PCR R²=0.368", "PLSR R²=0.368", "SVR R²=0.728", "MLP R²=0.581"], "range": ["#808080", "#ffff00", "#a52a2a", "#008000"]}},
   "shape": {"datum": "SVR R²=0.728", "scale": {"domain": ["PCR R²=0.368", "PLSR R²=0.368", "SVR R²=0.728", "MLP R²=0.581"], "range": ["M0,-1L0.951,-0.309L0.588,0.809L-0.588,0.809L-0.951,-0.309Z", "M0,-1L0.2245,-0.309L0.951,-0.309L0.363,0.118L0.588,0.809L0,0.382L-0.588,0.809L-0.363,0.118L-0.951,-0.309L-0.2245,-0.309Z", "M-1,-0.774L-0.774,-1L0,-0.226L0.774,-1L1,-0.774L0.226,0L1,0.774L0.774,1L0,0.226L-0.774,1L-1,0.774L-0.226,0Z", "M-0.16,-1H0.16V-0.16H1V0.16H0.16V1H-0.16V0.16H-1V-0.16H-0.16Z"]}}}},
 {"data": {"name": "d_mlp"}, "mark": {"type": "point", "filled": true, "opacity": 1, "size": 130, "strokeWidth": 0},
  "encoding": {
   "x": {"field": "x", "type": "quantitative", "scale": {"domain": [-0.039, 0.861], "nice": false, "zero": false}, "axis": null},
   "y": {"field": "y", "type": "quantitative", "scale": {"domain": [-0.128, 0.794], "nice": false, "zero": false}, "axis": null},
   "color": {"datum": "MLP R²=0.581", "scale": {"domain": ["PCR R²=0.368", "PLSR R²=0.368", "SVR R²=0.728", "MLP R²=0.581"], "range": ["#808080", "#ffff00", "#a52a2a", "#008000"]}},
   "shape": {"datum": "MLP R²=0.581", "scale": {"domain": ["PCR R²=0.368", "PLSR R²=0.368", "SVR R²=0.728", "MLP R²=0.581"], "range": ["M0,-1L0.951,-0.309L0.588,0.809L-0.588,0.809L-0.951,-0.309Z", "M0,-1L0.2245,-0.309L0.951,-0.309L0.363,0.118L0.588,0.809L0,0.382L-0.588,0.809L-0.363,0.118L-0.951,-0.309L-0.2245,-0.309Z", "M-1,-0.774L-0.774,-1L0,-0.226L0.774,-1L1,-0.774L0.226,0L1,0.774L0.774,1L0,0.226L-0.774,1L-1,0.774L-0.226,0Z", "M-0.16,-1H0.16V-0.16H1V0.16H0.16V1H-0.16V0.16H-1V-0.16H-0.16Z"]}}}}
]}
]
}
]
}
],
"config": {
 "background": "white",
 "view": {"stroke": "black", "strokeWidth": 3},
 "axis": {"domain": false, "grid": false, "ticks": true, "tickSize": -5, "tickWidth": 2, "tickColor": "black", "labelFont": "DejaVu Sans", "labelFontWeight": "bold", "labelColor": "black", "labelPadding": 12, "titleFont": "DejaVu Sans", "titleFontWeight": "bold", "titleFontSize": 27, "titleColor": "black", "titlePadding": 6, "format": ".1f"},
 "legend": {"labelFont": "DejaVu Sans", "labelFontWeight": "bold", "labelColor": "black", "labelLimit": 400, "symbolStrokeWidth": 0},
 "title": {"font": "Open Sans", "fontSize": 20, "fontWeight": "normal", "color": "black", "offset": 32}
}
}
